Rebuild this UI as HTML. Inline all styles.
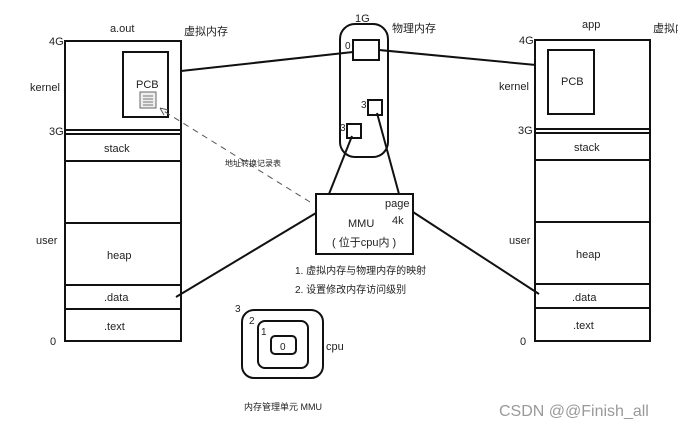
<!DOCTYPE html>
<html><head><meta charset="utf-8"><style>
body{margin:0;background:#fff;width:678px;height:427px;overflow:hidden}
svg text{font-family:"Liberation Sans","Noto Sans CJK SC",sans-serif;fill:#222}
</style></head><body>
<svg width="678" height="427" viewBox="0 0 678 427" xmlns="http://www.w3.org/2000/svg">
<g fill="none" stroke="#111" stroke-width="2">
<rect x="65" y="41" width="116" height="300"/>
<line x1="65" y1="130" x2="181" y2="130"/><line x1="65" y1="134" x2="181" y2="134"/>
<line x1="65" y1="161" x2="181" y2="161"/><line x1="65" y1="223" x2="181" y2="223"/>
<line x1="65" y1="285" x2="181" y2="285"/><line x1="65" y1="309" x2="181" y2="309"/>
<rect x="123" y="52" width="45" height="65"/>
<rect x="535" y="40" width="115" height="301"/>
<line x1="535" y1="129" x2="650" y2="129"/><line x1="535" y1="133" x2="650" y2="133"/>
<line x1="535" y1="160" x2="650" y2="160"/><line x1="535" y1="222" x2="650" y2="222"/>
<line x1="535" y1="284" x2="650" y2="284"/><line x1="535" y1="308" x2="650" y2="308"/>
<rect x="548" y="50" width="46" height="64"/>
<rect x="340" y="24" width="48" height="133" rx="15"/>
<rect x="353" y="40" width="26" height="20"/>
<rect x="368" y="100" width="14" height="15"/>
<rect x="347" y="124" width="14" height="14"/>
<rect x="316" y="194" width="97" height="60"/>
<line x1="181" y1="71" x2="353" y2="52"/>
<line x1="379" y1="50" x2="536" y2="65"/>
<line x1="352" y1="136" x2="329" y2="194"/>
<line x1="377" y1="113" x2="399" y2="194"/>
<line x1="176" y1="297" x2="316" y2="213"/>
<line x1="413" y1="212" x2="539" y2="294"/>
<rect x="242" y="310" width="81" height="68" rx="12"/>
<rect x="258" y="321" width="50" height="47" rx="7"/>
<rect x="271" y="336" width="25" height="18" rx="4"/>
</g>
<rect x="140" y="92" width="16" height="16" fill="#eee" stroke="#666"/>
<g stroke="#777"><line x1="143" y1="96" x2="153" y2="96"/><line x1="143" y1="99" x2="153" y2="99"/><line x1="143" y1="102" x2="153" y2="102"/><line x1="143" y1="105" x2="153" y2="105"/></g>
<line x1="310" y1="202" x2="162" y2="110" stroke="#555" stroke-dasharray="6,5"/>
<path d="M160 108 L168 110 M160 108 L164 115" stroke="#555" fill="none"/>
<g font-size="11">
<text x="110" y="32">a.out</text><text x="184" y="35">虚拟内存</text>
<text x="49" y="45">4G</text><text x="30" y="91">kernel</text><text x="49" y="135">3G</text>
<text x="36" y="244">user</text><text x="50" y="345">0</text>
<text x="136" y="88">PCB</text><text x="104" y="152">stack</text><text x="107" y="259">heap</text>
<text x="104" y="301">.data</text><text x="104" y="330">.text</text>
<text x="582" y="28">app</text><text x="653" y="32">虚拟内存</text>
<text x="519" y="44">4G</text><text x="499" y="90">kernel</text><text x="518" y="134">3G</text>
<text x="509" y="244">user</text><text x="520" y="345">0</text>
<text x="561" y="85">PCB</text><text x="574" y="151">stack</text><text x="576" y="258">heap</text>
<text x="572" y="301">.data</text><text x="573" y="329">.text</text>
<text x="355" y="22">1G</text><text x="392" y="32">物理内存</text>
<text x="345" y="49" font-size="10">0</text><text x="361" y="108" font-size="10">3</text><text x="340" y="131" font-size="10">3</text>
<text x="385" y="207">page</text><text x="392" y="224">4k</text>
<text x="348" y="227">MMU</text><text x="332" y="246">( 位于cpu内 )</text>
<text x="295" y="274" font-size="10">1. 虚拟内存与物理内存的映射</text>
<text x="295" y="293" font-size="10">2. 设置修改内存访问级别</text>
<text x="235" y="312" font-size="10">3</text><text x="249" y="324" font-size="10">2</text><text x="261" y="335" font-size="10">1</text>
<text x="280" y="350" font-size="10">0</text><text x="326" y="350">cpu</text>
<text x="244" y="410" font-size="9">内存管理单元 MMU</text>
<text x="225" y="166" font-size="8">地址转换记录表</text>
<text x="499" y="416" font-size="16" style="fill:#999">CSDN @@Finish_all</text>
</g>
</svg>
</body></html>
